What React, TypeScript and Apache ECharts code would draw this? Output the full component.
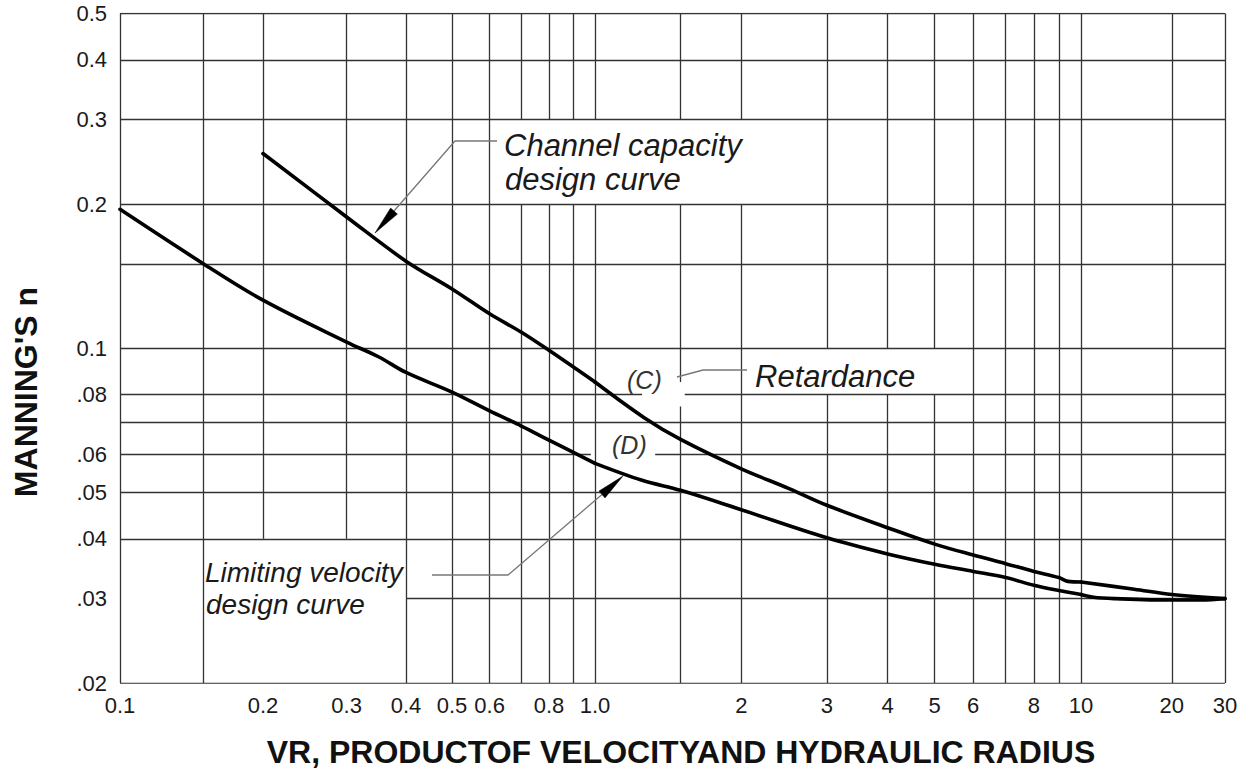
import React, { useEffect, useRef } from "react";
import * as echarts from "echarts";

// ---- Data ----
// Retardance (C): Channel capacity design curve
const curveCX = [0.2, 0.3, 0.4, 0.5, 0.6, 0.7, 0.8, 1.0, 1.26, 1.5, 2, 2.5, 3, 4, 5, 6, 7, 8, 9, 9.4, 10, 15, 20, 30];
const curveCY = [0.255, 0.188, 0.152, 0.133, 0.118, 0.108, 0.099, 0.085, 0.0717, 0.0645, 0.056, 0.051, 0.047, 0.0422, 0.039, 0.037, 0.0355, 0.0342, 0.0332, 0.0326, 0.0325, 0.0314, 0.0306, 0.03];
// Retardance (D): Limiting velocity design curve
const curveDX = [0.1, 0.15, 0.2, 0.3, 0.35, 0.4, 0.5, 0.6, 0.7, 0.8, 1.0, 1.25, 1.5, 2, 3, 4, 5, 6, 7, 8, 9, 10, 11, 13, 20, 25, 30];
const curveDY = [0.195, 0.15, 0.126, 0.103, 0.096, 0.089, 0.081, 0.074, 0.0688, 0.0643, 0.0575, 0.053, 0.0505, 0.046, 0.0402, 0.0372, 0.0354, 0.0342, 0.0332, 0.032, 0.0312, 0.0306, 0.0302, 0.03, 0.0298, 0.0298, 0.03];

// tick labels (one list per x-axis section)
const xTickValuesA = [0.1, 0.2, 0.3, 0.4, 0.5, 0.6, 0.8, 1];
const xTickValuesB = [2, 3, 4, 5, 6, 8, 10];
const xTickValuesC = [20, 30];
const xTickText: Record<string, string> = { "1": "1.0" };
const yTickValues = [0.02, 0.03, 0.04, 0.05, 0.06, 0.08, 0.1, 0.2, 0.3, 0.4, 0.5];
const yTickText: Record<string, string> = { "0.02": ".02", "0.03": ".03", "0.04": ".04", "0.05": ".05", "0.06": ".06", "0.08": ".08" };

// grid lines (data values) and the parts left blank
const vLines = [0.1, 0.15, 0.2, 0.3, 0.4, 0.5, 0.6, 0.7, 0.8, 0.9, 1, 1.5, 2, 3, 4, 5, 6, 7, 8, 9, 10, 20, 30];
const hLines = [0.02, 0.03, 0.04, 0.05, 0.06, 0.07, 0.08, 0.1, 0.15, 0.2, 0.3, 0.4, 0.5];
const vGaps: Record<string, [number, number][]> = {
  "0.2": [[0.02, 0.04]],
  "0.3": [[0.02, 0.04]],
  "0.7": [[0.2, 0.3]],
  "0.8": [[0.2, 0.3]],
  "0.9": [[0.2, 0.3]],
  "1": [[0.2, 0.3]],
  "1.5": [[0.0756, 0.085], [0.2, 0.3]],
  "2": [[0.2, 0.3]],
  "3": [[0.08, 0.1]],
  "4": [[0.08, 0.1]],
  "5": [[0.08, 0.1]],
};
const hGaps: Record<string, [number, number][]> = {
  "0.03": [[0.1, 0.4]],
  "0.06": [[0.98, 1.33]],
  "0.08": [[1.25, 1.53]],
};

// the x scale of the original is drawn in three log sections
const xBreaks = [0.1, 1, 10, 30];
const Y_MIN = 0.02, Y_MAX = 0.5;

const FONT = '"Liberation Sans", Arial, Helvetica, sans-serif';

function subtract(range: [number, number], gaps: [number, number][] = []) {
  let segs: [number, number][] = [range];
  for (const g of gaps) {
    const next: [number, number][] = [];
    for (const [a, b] of segs) {
      if (g[0] > a) next.push([a, Math.min(b, g[0])]);
      if (g[1] < b) next.push([Math.max(a, g[1]), b]);
    }
    segs = next.filter(([p, q]) => q > p);
  }
  return segs;
}

function sectionOf(x: number) {
  for (let i = 0; i < xBreaks.length - 1; i++) {
    if (x >= xBreaks[i] && x <= xBreaks[i + 1]) return i;
  }
  return xBreaks.length - 2;
}

function buildGrid() {
  const out: any[][] = xBreaks.slice(1).map(() => []);
  for (const x of vLines) {
    for (const [a, b] of subtract([Y_MIN, Y_MAX], vGaps[String(x)])) {
      out[sectionOf(x)].push({ coords: [[x, a], [x, b]] });
    }
  }
  for (const y of hLines) {
    for (const [a, b] of subtract([xBreaks[0], xBreaks[xBreaks.length - 1]], hGaps[String(y)])) {
      for (let i = 0; i < xBreaks.length - 1; i++) {
        const lo = Math.max(a, xBreaks[i]);
        const hi = Math.min(b, xBreaks[i + 1]);
        if (hi > lo) out[i].push({ coords: [[lo, y], [hi, y]] });
      }
    }
  }
  return out;
}

function pairs(xs: number[], ys: number[], lo: number, hi: number) {
  const out: [number, number][] = [];
  xs.forEach((x, i) => {
    if (x >= lo && x <= hi) out.push([x, ys[i]]);
  });
  return out;
}

const fmtKey = (v: number) => String(+v.toPrecision(4));

export default function App() {
  const ref = useRef<HTMLDivElement>(null);
  useEffect(() => {
    const chart = echarts.init(ref.current!, null, { renderer: "svg" });
    const gridSegs = buildGrid();
    const top = 13.5;
    const height = 669.5;
    const edges = [120, 595, 1081, 1225];
    const labelStyle = { fontSize: 22, color: "#1a1a1a", fontFamily: FONT };
    const gridLineStyle = { color: "#333", width: 1.3, opacity: 1 };
    const curveStyle = { color: "#000", width: 3.6, cap: "round", join: "round" };
    const axisBase = {
      type: "log",
      logBase: 10,
      axisLine: { show: false },
      axisTick: { show: false },
      splitLine: { show: false },
      minorSplitLine: { show: false },
    };
    const xTickLists = [xTickValuesA, xTickValuesB, xTickValuesC];
    const nSec = xBreaks.length - 1;
    const grids = [];
    const xAxes = [];
    const yAxes = [];
    const series: any[] = [];
    for (let i = 0; i < nSec; i++) {
      grids.push({ left: edges[i], top, width: edges[i + 1] - edges[i], height });
      xAxes.push({
        ...axisBase,
        gridIndex: i,
        min: xBreaks[i],
        max: xBreaks[i + 1],
        axisLabel: {
          ...labelStyle,
          margin: 11,
          customValues: xTickLists[i],
          formatter: (v: number) => xTickText[fmtKey(v)] ?? fmtKey(v),
        },
      });
      yAxes.push({
        ...axisBase,
        gridIndex: i,
        min: Y_MIN,
        max: Y_MAX,
        axisLabel:
          i === 0
            ? {
                ...labelStyle,
                margin: 13,
                customValues: yTickValues,
                formatter: (v: number) => yTickText[fmtKey(v)] ?? fmtKey(v),
              }
            : { show: false },
      });
      series.push({
        type: "lines",
        coordinateSystem: "cartesian2d",
        xAxisIndex: i,
        yAxisIndex: i,
        silent: true,
        z: 1,
        lineStyle: gridLineStyle,
        data: gridSegs[i],
      });
      series.push({
        name: "(C) Channel capacity design curve",
        type: "line",
        xAxisIndex: i,
        yAxisIndex: i,
        showSymbol: false,
        smooth: 0.35,
        z: 3,
        lineStyle: curveStyle,
        data: pairs(curveCX, curveCY, xBreaks[i], xBreaks[i + 1]),
      });
      series.push({
        name: "(D) Limiting velocity design curve",
        type: "line",
        xAxisIndex: i,
        yAxisIndex: i,
        showSymbol: false,
        smooth: 0.35,
        z: 3,
        lineStyle: curveStyle,
        data: pairs(curveDX, curveDY, xBreaks[i], xBreaks[i + 1]),
      });
    }
    const txt = (text: string, x: number, y: number, font: string, fill = "#1a1a1a", align = "left") => ({
      type: "text", x, y, z: 10,
      style: { text, font, fill, align, verticalAlign: "middle", textAlign: align, textVerticalAlign: "middle" },
    });
    const option: any = {
      animation: false,
      backgroundColor: "#ffffff",
      grid: grids,
      xAxis: xAxes,
      yAxis: yAxes,
      series,
      graphic: [
        txt("Channel capacity", 504, 145, `italic 31px ${FONT}`),
        txt("design curve", 505, 179, `italic 31px ${FONT}`),
        txt("Retardance", 755, 376, `italic 31px ${FONT}`),
        txt("(C)", 627, 380, `italic 25px ${FONT}`, "#333"),
        txt("(D)", 612, 445, `italic 25px ${FONT}`, "#333"),
        txt("Limiting velocity", 205, 572, `italic 28px ${FONT}`),
        txt("design curve", 206, 604, `italic 28px ${FONT}`),
        {
          type: "polyline", z: 10,
          shape: { points: [[497, 141], [455, 141], [394, 211]] },
          style: { stroke: "#777", lineWidth: 1.3, fill: null },
        },
        {
          type: "polygon", z: 10,
          shape: { points: [[375, 233], [390.6, 208.1], [397.4, 214.1]] },
          style: { fill: "#000", stroke: "#000", lineWidth: 0.5 },
        },
        {
          type: "polyline", z: 10,
          shape: { points: [[432, 575], [508, 575], [602, 494.5]] },
          style: { stroke: "#777", lineWidth: 1.3, fill: null },
        },
        {
          type: "polygon", z: 10,
          shape: { points: [[623, 476], [605, 497.9], [599, 491.1]] },
          style: { fill: "#000", stroke: "#000", lineWidth: 0.5 },
        },
        {
          type: "polyline", z: 10,
          shape: { points: [[677, 377], [703, 370], [747, 370]] },
          style: { stroke: "#777", lineWidth: 1.3, fill: null },
        },
        {
          type: "text", x: 26, y: 392, rotation: Math.PI / 2, z: 10,
          style: { text: "MANNING'S n", font: `bold 32px ${FONT}`, fill: "#111", align: "center", verticalAlign: "middle", textAlign: "center", textVerticalAlign: "middle" },
        },
        txt("VR, PRODUCTOF VELOCITYAND HYDRAULIC RADIUS", 681, 752, `bold 32px ${FONT}`, "#111", "center"),
      ],
    };
    chart.setOption(option);
    return () => chart.dispose();
  }, []);
  return (
    <div
      ref={ref}
      style={{ position: "fixed", left: 0, top: 0, width: 1252, height: 774 }}
    />
  );
}
